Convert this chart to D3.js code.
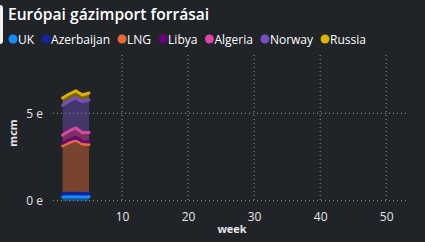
<!DOCTYPE html>
<html>
<head>
<meta charset="utf-8">
<script src="https://cdn.jsdelivr.net/npm/d3@7"></script>
<style>
  body { margin: 0; background: #202327; }
  text { font-family: "Open Sans", "Noto Sans", sans-serif; }
</style>
</head>
<body>
<div id="chart"></div>
<script>
// weekly gas import by source (thousand mcm)
const weeks = [1, 2, 3, 4, 5];
const uk = [0.21, 0.22, 0.22, 0.21, 0.22];
const azerbaijan = [0.2, 0.2, 0.2, 0.2, 0.2];
const lng = [2.73, 2.9, 3.05, 2.82, 2.79];
const libya = [0.15, 0.15, 0.15, 0.15, 0.15];
const algeria = [0.46, 0.52, 0.54, 0.51, 0.54];
const norway = [1.71, 1.71, 1.72, 1.77, 1.86];
const russia = [0.41, 0.4, 0.4, 0.38, 0.4];

const seriesNames = ["UK", "Azerbaijan", "LNG", "Libya", "Algeria", "Norway", "Russia"];
const seriesValues = [uk, azerbaijan, lng, libya, algeria, norway, russia];
const seriesColors = ["#118DFF", "#12239E", "#E66C37", "#6B007B", "#E044A7", "#744EC2", "#D9B300"];

const xTicks = [10, 20, 30, 40, 50];
const yTicks = [0, 5];

const width = 425, height = 242;

let svg = d3.select("#chart")
	.append("svg")
	.attr("width", width)
	.attr("height", height);

// rows for the stack
let rows = weeks.map(function (w, i) {
	let r = { week: w };
	seriesNames.forEach(function (name, j) { r[name] = seriesValues[j][i]; });
	return r;
});

let stacked = d3.stack().keys(seriesNames)(rows);

let x = d3.scaleLinear().domain([0, 53]).range([56, 406]);
let y = d3.scaleLinear().domain([0, 8.33]).range([200.7, 55]);

let color = d3.scaleOrdinal().domain(seriesNames).range(seriesColors);

// focus frame piece at left edge
svg.append("rect")
	.attr("x", -6).attr("y", 5)
	.attr("width", 9).attr("height", 39)
	.attr("rx", 3)
	.attr("fill", "#f2f2f2");

// title
svg.append("text")
	.attr("x", 8)
	.attr("y", 20)
	.attr("fill", "#ffffff")
	.style("font-size", "15.6px")
	.style("font-weight", "600")
	.text("Európai gázimport forrásai");

// legend
let lx = 13;
seriesNames.forEach(function (name) {
	svg.append("circle")
		.attr("cx", lx).attr("cy", 39).attr("r", 4.5)
		.attr("fill", color(name));
	let t = svg.append("text")
		.attr("x", lx + 5)
		.attr("y", 43.5)
		.attr("fill", "#ffffff")
		.style("font-size", "12px")
		.text(name);
	lx += 5 + t.node().getComputedTextLength() + 12;
});

// grid lines
svg.append("g")
	.selectAll("line.vg")
	.data(xTicks)
	.enter().append("line")
	.attr("x1", function (d) { return x(d); })
	.attr("x2", function (d) { return x(d); })
	.attr("y1", 55)
	.attr("y2", y(0))
	.attr("stroke", "#9a9c9e")
	.attr("stroke-width", 1)
	.attr("stroke-dasharray", "1,3");

svg.append("g")
	.selectAll("line.hg")
	.data(yTicks)
	.enter().append("line")
	.attr("x1", 53)
	.attr("x2", 408)
	.attr("y1", function (d) { return y(d); })
	.attr("y2", function (d) { return y(d); })
	.attr("stroke", "#9a9c9e")
	.attr("stroke-width", 1)
	.attr("stroke-dasharray", "1,3");

// axes (labels only)
let xAxis = svg.append("g")
	.attr("transform", "translate(0," + y(0) + ")")
	.call(d3.axisBottom(x).tickValues(xTicks).tickSize(0).tickPadding(12));
xAxis.select(".domain").remove();
xAxis.selectAll("text").attr("fill", "#e6e6e6").style("font-size", "12px");

let yAxis = svg.append("g")
	.attr("transform", "translate(43,0)")
	.call(d3.axisLeft(y).tickValues(yTicks).tickSize(0).tickPadding(0).tickFormat(function (d) { return d + " e"; }));
yAxis.select(".domain").remove();
yAxis.selectAll("text").attr("fill", "#e6e6e6").style("font-size", "12px");

// axis titles
svg.append("text")
	.attr("x", 232)
	.attr("y", 233)
	.attr("text-anchor", "middle")
	.attr("fill", "#e6e6e6")
	.style("font-size", "11px")
	.style("font-weight", "bold")
	.text("week");

svg.append("text")
	.attr("transform", "translate(17,133) rotate(-90)")
	.attr("text-anchor", "middle")
	.attr("fill", "#e6e6e6")
	.style("font-size", "11px")
	.style("font-weight", "bold")
	.text("mcm");

// stacked areas
let area = d3.area()
	.x(function (d) { return x(d.data.week); })
	.y0(function (d) { return y(d[0]); })
	.y1(function (d) { return y(d[1]); });

let line = d3.line()
	.x(function (d) { return x(d.data.week); })
	.y(function (d) { return y(d[1]); });

svg.append("g")
	.selectAll("path")
	.data(stacked)
	.enter().append("path")
	.attr("d", area)
	.attr("fill", function (d) { return color(d.key); })
	.attr("fill-opacity", 0.45);

svg.append("g")
	.selectAll("path")
	.data(stacked)
	.enter().append("path")
	.attr("d", line)
	.attr("fill", "none")
	.attr("stroke", function (d) { return color(d.key); })
	.attr("stroke-width", 3)
	.attr("stroke-linejoin", "round")
	.attr("stroke-linecap", "round");
</script>
</body>
</html>
